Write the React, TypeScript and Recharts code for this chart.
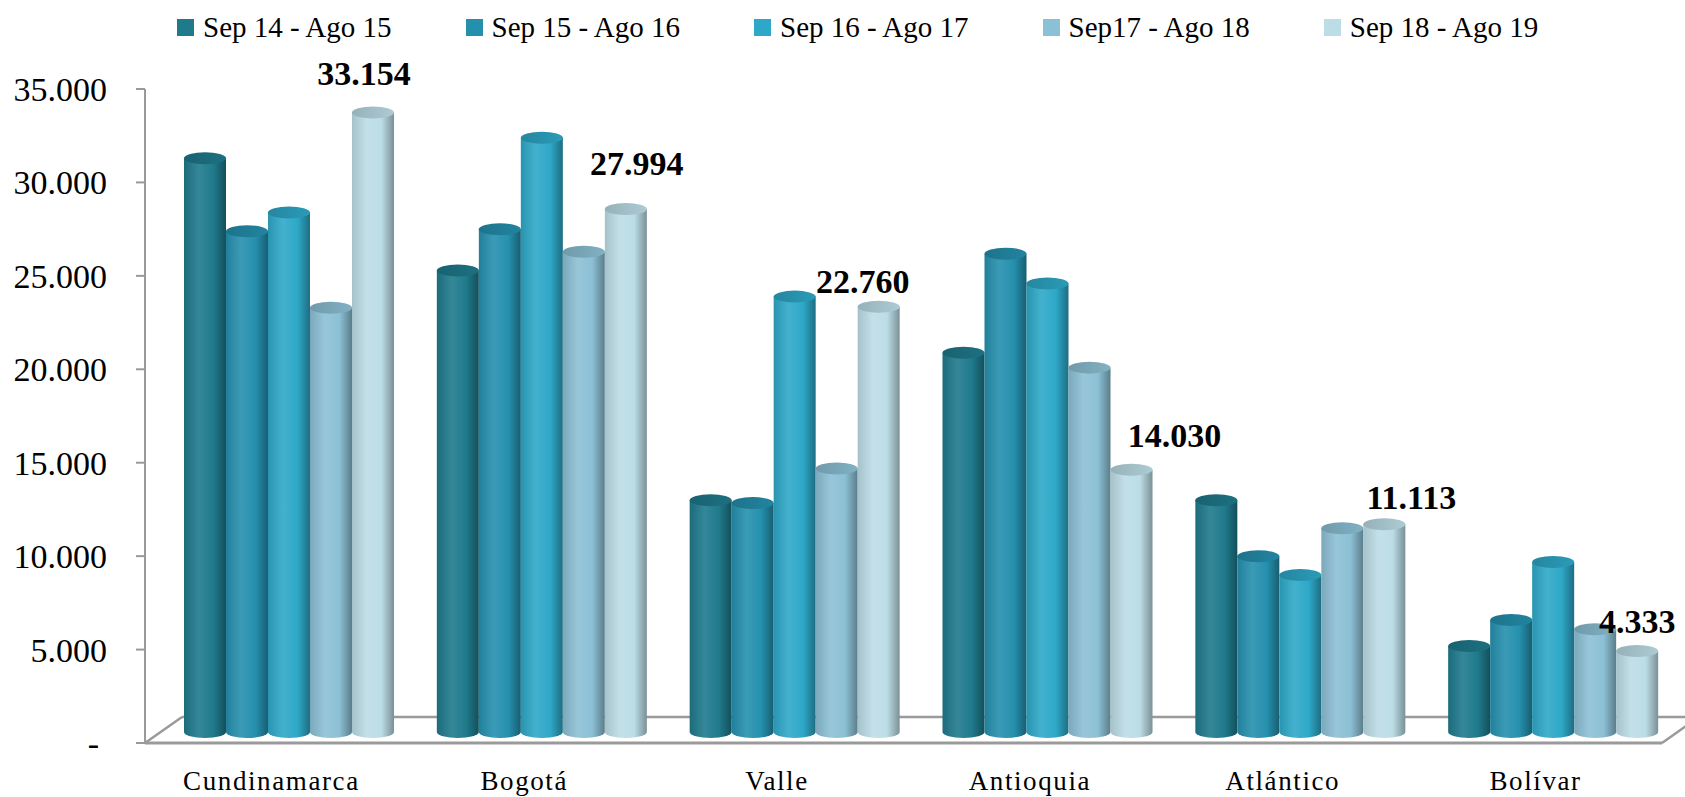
import React from "react";
import { BarChart, Bar, XAxis, YAxis, LabelList, Customized } from "recharts";

const categories = ["Cundinamarca", "Bogotá", "Valle", "Antioquia", "Atlántico", "Bolívar"];
const sep14Ago15 = [30700, 24700, 12400, 20300, 12400, 4600];
const sep15Ago16 = [26800, 26900, 12250, 25600, 9400, 6000];
const sep16Ago17 = [27800, 31800, 23300, 24000, 8400, 9100];
const sep17Ago18 = [22700, 25700, 14100, 19500, 10900, 5500];
const sep18Ago19 = [33154, 27994, 22760, 14030, 11113, 4333];

const seriesNames = ["Sep 14 - Ago 15", "Sep 15 - Ago 16", "Sep 16 - Ago 17", "Sep17 - Ago 18", "Sep 18 - Ago 19"];
const seriesValues = [sep14Ago15, sep15Ago16, sep16Ago17, sep17Ago18, sep18Ago19];
const seriesColors = ["#1F7A8C", "#2590AE", "#2EA8C8", "#8CC0D5", "#BCDDE6"];
const yTicks = [0, 5000, 10000, 15000, 20000, 25000, 30000, 35000];
const boundTicks = [0, 1, 2, 3, 4, 5, 6];

// hand-placed value labels, [dx, dy] from the default spot above each cylinder
const labelShift = [[-9, 2], [11, -5], [-16, 15], [43, 6], [27, 14], [0, 11]];

const data = categories.map((name, i) => {
  const row: Record<string, string | number> = { name };
  seriesValues.forEach((vals, s) => (row["s" + s] = vals[i]));
  return row;
});

const W = 1685;
const H = 797;
const PLOT = { left: 145, right: 1662, top: 89, bottom: 743 };
// pseudo-3D floor depth, cylinders sit halfway back
const DEPTH_X = 37;
const DEPTH_Y = 26;
const DX = 18;
const DY = -11;
const RY = 6;
const FONT = '"Liberation Serif", "Times New Roman", serif';
const AXIS_GRAY = "#9a9a9a";

const fmt = (v: number) =>
  v === 0 ? "-" : String(v).replace(/\B(?=(\d{3})+(?!\d))/g, ".");

function shade(hex: string, amt: number) {
  const n = parseInt(hex.slice(1), 16);
  const t = amt < 0 ? 0 : 255;
  const p = Math.abs(amt);
  const ch = [n >> 16, (n >> 8) & 255, n & 255].map((c) => Math.round(c + (t - c) * p));
  return `rgb(${ch[0]},${ch[1]},${ch[2]})`;
}

function Cylinder(props: any) {
  const { x, y, width, height, s } = props;
  if (width == null || height == null || isNaN(y)) return null;
  const left = x + DX;
  const top = y + DY;
  const bottom = top + height;
  const rx = width / 2;
  const body = `M${left},${top} L${left},${bottom} A${rx},${RY} 0 0 0 ${left + width},${bottom} L${left + width},${top} Z`;
  return (
    <g>
      <path d={body} fill={`url(#cyl${s})`} />
      <ellipse cx={left + rx} cy={top} rx={rx} ry={RY} fill={`url(#cap${s})`} />
    </g>
  );
}

function TopLabel(props: any) {
  const { x, y, width, value, index } = props;
  const [sx, sy] = labelShift[index] || [0, 0];
  return (
    <text
      x={x + width / 2 + DX + sx}
      y={y + DY - 29 + sy}
      textAnchor="middle"
      fontFamily={FONT}
      fontWeight="bold"
      fontSize={34}
      fill="#000"
    >
      {fmt(value)}
    </text>
  );
}

function YTick(props: any) {
  const { x, y, payload } = props;
  const zero = payload.value === 0;
  return (
    <text x={zero ? x - 8 : x} y={y + 12} textAnchor="end" fontFamily={FONT} fontSize={34} fill="#000">
      {fmt(payload.value)}
    </text>
  );
}

function XTick(props: any) {
  const { x, y, payload } = props;
  return (
    <text x={x} y={y + 47} textAnchor="middle" fontFamily={FONT} fontSize={27} letterSpacing={1.6} fill="#000">
      {payload.value}
    </text>
  );
}

// floor outline behind the cylinders
function Floor() {
  const { left, right, bottom } = PLOT;
  const back = bottom - DEPTH_Y;
  return (
    <g stroke={AXIS_GRAY} strokeWidth={2.5} fill="none">
      <line x1={left} y1={bottom} x2={left + DEPTH_X} y2={back} />
      <line x1={left + DEPTH_X} y1={back} x2={W} y2={back} />
      <line x1={right} y1={bottom} x2={right + DEPTH_X} y2={back} />
    </g>
  );
}

function Legend() {
  return (
    <div
      style={{
        position: "absolute",
        top: 8,
        left: 177,
        display: "flex",
        gap: 74,
        fontFamily: FONT,
        fontSize: 29,
        lineHeight: "38px",
        whiteSpace: "nowrap",
      }}
    >
      {seriesNames.map((n, i) => (
        <div key={n} style={{ display: "flex", alignItems: "center" }}>
          <span style={{ width: 17, height: 17, background: seriesColors[i], marginRight: 9, display: "inline-block" }} />
          <span>{n}</span>
        </div>
      ))}
    </div>
  );
}

export default function App() {
  return (
    <div style={{ position: "absolute", left: 0, top: 0, width: W, height: H, background: "#fff" }}>
      <Legend />
      <BarChart
        width={W}
        height={H}
        data={data}
        barGap={0}
        barSize={42}
        margin={{ top: PLOT.top, right: W - PLOT.right, left: 0, bottom: 0 }}
      >
        <defs>
          {seriesColors.map((c, i) => (
            <React.Fragment key={i}>
              <linearGradient id={`cyl${i}`} x1="0" y1="0" x2="1" y2="0">
                <stop offset="0%" stopColor={shade(c, -0.12)} />
                <stop offset="35%" stopColor={shade(c, 0.1)} />
                <stop offset="70%" stopColor={c} />
                <stop offset="100%" stopColor={shade(c, -0.35)} />
              </linearGradient>
              <linearGradient id={`cap${i}`} x1="0" y1="0" x2="1" y2="0">
                <stop offset="0%" stopColor={shade(c, -0.2)} />
                <stop offset="100%" stopColor={shade(c, -0.08)} />
              </linearGradient>
            </React.Fragment>
          ))}
        </defs>
        <Customized component={<Floor />} />
        <XAxis
          xAxisId="bounds"
          type="number"
          domain={[0, 6]}
          ticks={boundTicks}
          height={0}
          axisLine={false}
          tick={false}
          tickSize={9}
          tickLine={{ stroke: AXIS_GRAY, strokeWidth: 2 }}
        />
        <XAxis
          dataKey="name"
          height={H - PLOT.bottom}
          axisLine={{ stroke: AXIS_GRAY, strokeWidth: 3 }}
          tickLine={false}
          tickSize={0}
          tickMargin={0}
          tick={<XTick />}
          interval={0}
        />
        <YAxis
          width={PLOT.left}
          domain={[0, 35000]}
          ticks={yTicks}
          allowDataOverflow
          axisLine={{ stroke: AXIS_GRAY, strokeWidth: 2 }}
          tickLine={{ stroke: AXIS_GRAY, strokeWidth: 2 }}
          tickSize={9}
          tickMargin={29}
          tick={<YTick />}
        />
        {seriesNames.map((n, i) => (
          <Bar
            key={n}
            dataKey={"s" + i}
            name={n}
            fill={seriesColors[i]}
            isAnimationActive={false}
            shape={(p: any) => <Cylinder {...p} s={i} />}
          >
            {i === 4 && <LabelList dataKey={"s" + i} content={<TopLabel />} />}
          </Bar>
        ))}
      </BarChart>
    </div>
  );
}
